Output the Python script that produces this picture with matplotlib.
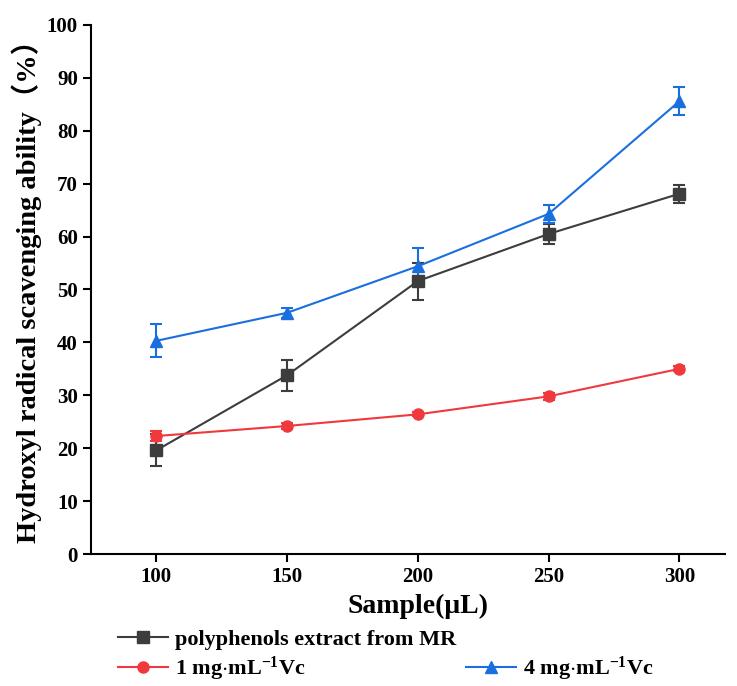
import matplotlib
matplotlib.use("Agg")
import matplotlib.pyplot as plt
from matplotlib.lines import Line2D

x = [100, 150, 200, 250, 300]
poly = [19.6, 33.8, 51.6, 60.5, 68.1]
poly_err = [3.0, 2.9, 3.5, 1.9, 1.7]
vc1 = [22.3, 24.2, 26.4, 29.8, 35.0]
vc1_err = [0.9, 0.5, 0.4, 0.6, 0.5]
vc4 = [40.3, 45.6, 54.4, 64.3, 85.6]
vc4_err = [3.1, 0.9, 3.5, 1.7, 2.6]
labels = ["polyphenols extract from MR", r"1 mg$\cdot$mL$^{\mathbf{-1}}$Vc", r"4 mg$\cdot$mL$^{\mathbf{-1}}$Vc"]

plt.rcParams['font.family'] = ['Liberation Serif', 'Noto Sans CJK SC']
plt.rcParams['font.weight'] = 'bold'
plt.rcParams['mathtext.fontset'] = 'custom'
plt.rcParams['mathtext.rm'] = 'Liberation Serif:bold'
plt.rcParams['mathtext.it'] = 'Liberation Serif:bold'
plt.rcParams['mathtext.bf'] = 'Liberation Serif:bold'

fig = plt.figure(figsize=(7.37, 6.86), dpi=100)
ax = fig.add_axes([0.1235, 0.1924, 0.8605, 0.7712])

black = '#3d3d3d'
red = '#f0393c'
blue = '#1a6fdf'
ms = 8
ax.errorbar(x, poly, yerr=poly_err, color=black, marker='s', ms=ms, lw=1.5, capsize=4, elinewidth=1.5, capthick=1.5)
ax.errorbar(x, vc1, yerr=vc1_err, color=red, marker='o', ms=ms, lw=1.5, capsize=4, elinewidth=1.5, capthick=1.5)
ax.errorbar(x, vc4, yerr=vc4_err, color=blue, marker='^', ms=ms + 1, lw=1.5, capsize=4, elinewidth=1.5, capthick=1.5)

ax.set_xlim(75, 317.5)
ax.set_ylim(0, 100)
ax.set_xticks(x)
ax.set_yticks(range(0, 101, 10))
for s in ['top', 'right']:
    ax.spines[s].set_visible(False)
for s in ['left', 'bottom']:
    ax.spines[s].set_linewidth(1.5)
ax.tick_params(direction='out', length=6, width=1.5, labelsize=15)
for t in ax.get_xticklabels() + ax.get_yticklabels():
    t.set_fontweight('bold')

ax.set_xlabel("Sample(μL)", fontsize=20, fontweight='bold', labelpad=4)
ax.xaxis.set_label_coords(0.516, -0.075)
ax.set_ylabel("Hydroxyl radical scavenging ability（%）", fontsize=20.5, fontweight='bold', labelpad=5)
ax.yaxis.set_label_coords(-0.078, 0.51)

blank = Line2D([], [], color='none')
handles = [Line2D([], [], color=black, marker='s', ms=ms, lw=1.5),
           Line2D([], [], color=red, marker='o', ms=ms, lw=1.5),
           blank,
           Line2D([], [], color=blue, marker='^', ms=ms + 1, lw=1.5)]
fig.legend(handles, [labels[0], labels[1], "", labels[2]], ncol=2, frameon=False,
           loc='upper left', bbox_to_anchor=(0.160, 0.083), borderpad=0, borderaxespad=0,
           handlelength=2.25, handletextpad=0.3, columnspacing=0.45, labelspacing=0.25,
           prop={'weight': 'bold', 'size': 16})

fig.savefig("out.png", dpi=100)
